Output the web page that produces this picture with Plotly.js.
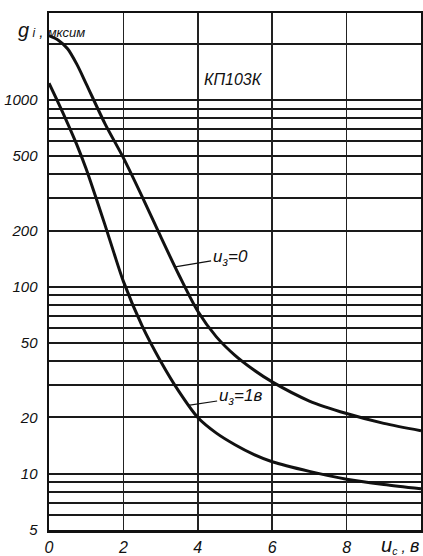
<!DOCTYPE html>
<html><head><meta charset="utf-8">
<script src="https://cdn.plot.ly/plotly-3.0.1.min.js"></script>
<style>html,body{margin:0;padding:0;background:#fff}#plot{width:423px;height:556px}</style>
</head><body><div id="plot"></div>
<script>
// curve u_з = 0
const x0 = [0, 0.25, 0.5, 0.75, 1, 1.5, 2, 2.5, 3, 3.5, 4, 4.5, 5, 5.5, 6, 7, 8, 9, 10];
const g0 = [2210, 2090, 1880, 1550, 1220, 750, 490, 305, 186, 115, 74, 54, 43, 36, 31, 24.5, 21, 18.6, 17];
// curve u_з = 1в
const x1 = [0, 0.25, 0.5, 0.75, 1, 1.25, 1.5, 1.75, 2, 2.5, 3, 3.5, 4, 4.5, 5, 5.5, 6, 7, 8, 9, 10];
const g1 = [1230, 966, 750, 575, 427, 305, 216, 151, 107, 62, 40, 27.4, 20, 16.5, 14.3, 12.7, 11.6, 10.3, 9.35, 8.75, 8.3];
// axes
const yLabeled = [5, 10, 20, 50, 100, 200, 500, 1000];
const yMinorGrid = [6, 7, 8, 9, 30, 40, 60, 70, 80, 90, 300, 400, 600, 700, 800, 900, 2000];
const xTicks = [0, 2, 4, 6, 8];

const FONT = "Liberation Sans Narrow, Liberation Sans, Arial, sans-serif";
const line = {color:'#111', width:3, shape:'spline', smoothing:0.8};

const traces = [
  {x:x0, y:g0, mode:'lines', line:line, hoverinfo:'skip'},
  {x:x1, y:g1, mode:'lines', line:line, hoverinfo:'skip'}
];

const layout = {
  width:423, height:556,
  margin:{l:49, r:2, t:13, b:26},
  paper_bgcolor:'#fff', plot_bgcolor:'#fff',
  showlegend:false,
  font:{family:FONT, color:'#111', size:15, style:'italic'},
  xaxis:{range:[0,10], tickvals:xTicks, showgrid:true, gridcolor:'#222', gridwidth:1.5,
         zeroline:false, showline:true, linecolor:'#111', linewidth:2.5, mirror:true, ticks:'',
         ticklabelstandoff:1, tickfont:{family:FONT, size:16, style:'italic', color:'#111'}},
  yaxis:{type:'log', range:[Math.log10(5), Math.log10(2920)], tickvals:yLabeled,
         ticktext:yLabeled.map(String),
         showgrid:true, gridcolor:'#1a1a1a', gridwidth:2, zeroline:false, showline:true, linecolor:'#111',
         linewidth:2.5, mirror:true, ticks:'', ticklabelstandoff:6,
         minor:{tickvals:yMinorGrid, showgrid:true, gridcolor:'#1a1a1a', gridwidth:2, ticks:''},
         tickfont:{family:FONT, size:15, style:'italic', color:'#111'}},
  annotations:[
    {xref:'paper', yref:'paper', x:-0.09, y:1.0, xanchor:'left', yanchor:'top', showarrow:false,
     text:"<span style='font-size:20px'>g</span><span style='font-size:12px'> i</span> , <span style='font-family:Liberation Sans;font-size:13px'>мксим</span>",
     font:{family:FONT, size:15, style:'italic'}, yshift:-4},
    {xref:'paper', yref:'paper', x:1.0, y:0, xanchor:'right', yanchor:'top', showarrow:false,
     text:"<span style='font-size:20px'>u</span><sub>c</sub> , <span style='font-size:18px'>в</span>",
     font:{family:FONT, size:15, style:'italic'}, yshift:-2},
    {xref:'x', yref:'y', x:4.95, y:Math.log10(1280), showarrow:false,
     text:'КП103К', font:{family:FONT, size:16, style:'italic'}},
    {xref:'x', yref:'y', x:3.39, y:Math.log10(128), ax:55, ay:-9, showarrow:true, arrowhead:0,
     arrowwidth:1.2, arrowcolor:'#111', text:'u<sub>з</sub>=0', font:{family:FONT, size:17, style:'italic'}},
    {xref:'x', yref:'y', x:3.74, y:Math.log10(23.2), ax:52, ay:-8, showarrow:true, arrowhead:0,
     arrowwidth:1.2, arrowcolor:'#111', text:'u<sub>з</sub>=1в', font:{family:FONT, size:17, style:'italic'}}
  ]
};
Plotly.newPlot('plot', traces, layout, {staticPlot:true, displayModeBar:false});
</script></body></html>
